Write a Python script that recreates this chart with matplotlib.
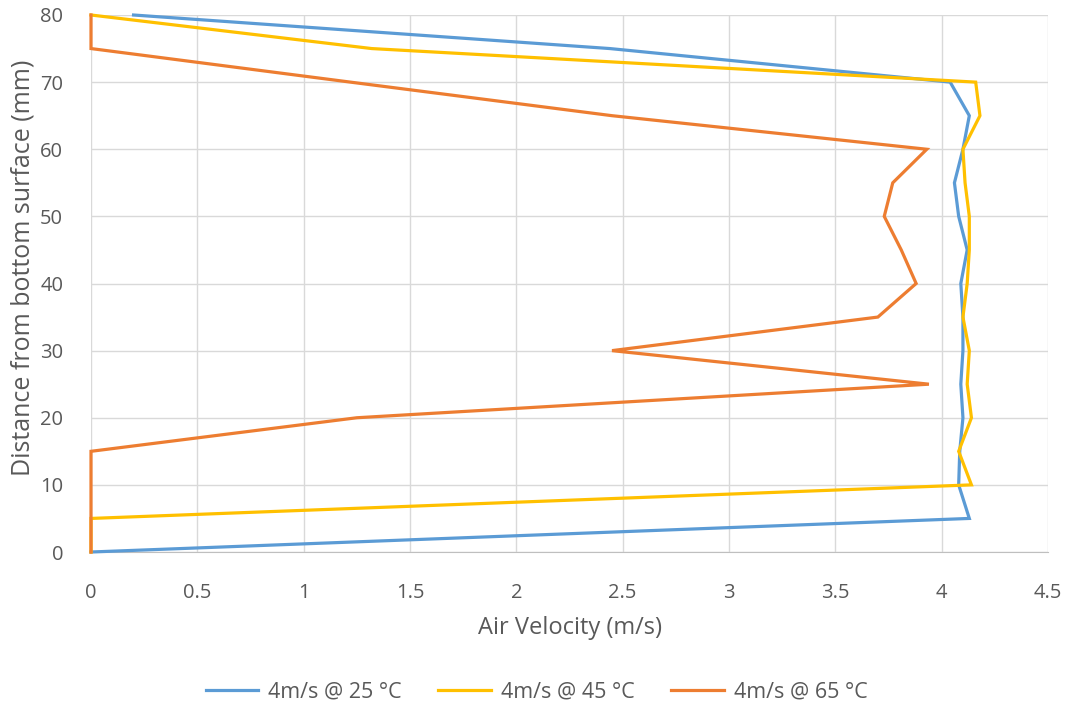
import matplotlib
matplotlib.use("Agg")
import matplotlib.pyplot as plt
from matplotlib.ticker import FuncFormatter

distance = [0, 5, 10, 15, 20, 25, 30, 35, 40, 45, 50, 55, 60, 65, 70, 75, 80]
v25 = [0, 4.13, 4.08, 4.085, 4.10, 4.09, 4.10, 4.10, 4.09, 4.12, 4.08, 4.06, 4.10, 4.13, 4.04, 2.44, 0.2]
v45 = [0, 0, 4.14, 4.08, 4.14, 4.12, 4.13, 4.10, 4.12, 4.13, 4.13, 4.11, 4.10, 4.18, 4.16, 1.32, 0]
v65 = [0, 0, 0, 0, 1.25, 3.94, 2.45, 3.70, 3.88, 3.81, 3.73, 3.77, 3.93, 2.45, 1.22, 0, 0]
series = [("4m/s @ 25 °C", v25, "#5B9BD5"),
          ("4m/s @ 45 °C", v45, "#FFC000"),
          ("4m/s @ 65 °C", v65, "#ED7D31")]
xticks = [0, 0.5, 1, 1.5, 2, 2.5, 3, 3.5, 4, 4.5]
yticks = [0, 10, 20, 30, 40, 50, 60, 70, 80]

plt.rcParams['font.family'] = ['Open Sans', 'DejaVu Sans']
txt = "#595959"

fig = plt.figure(figsize=(10.73, 7.11), dpi=100)
ax = fig.add_axes([91/1073, 1-552/711, 957/1073, 537/711])
for name, vals, col in series:
    ax.plot(vals, distance, color=col, lw=2.3, label=name, solid_joinstyle='miter', clip_on=False, zorder=3)

ax.set_xlim(0, 4.5)
ax.set_ylim(0, 80)
ax.set_xticks(xticks)
ax.set_yticks(yticks)
ax.xaxis.set_major_formatter(FuncFormatter(lambda v, p: f"{v:g}"))
ax.grid(True, color="#D9D9D9", lw=1)
ax.set_axisbelow(True)
for s in ["top", "right", "left"]:
    ax.spines[s].set_visible(False)
ax.spines["bottom"].set_color("#BFBFBF")
ax.tick_params(length=0, labelsize=14.5, colors=txt)
ax.tick_params(axis='x', pad=22)
ax.tick_params(axis='y', pad=20)
ax.set_xlabel("Air Velocity (m/s)", fontsize=17, color=txt, labelpad=10)
ax.set_ylabel("Distance from bottom surface (mm)", fontsize=18, color=txt)
ax.yaxis.set_label_coords(-0.058, 0.53)
fig.legend(loc="center", bbox_to_anchor=(0.5, 1-692/711), ncol=3, frameon=False,
           fontsize=15.5, labelcolor=txt, handlelength=2.45, handletextpad=0.45, columnspacing=1.7)
fig.savefig("out.png", dpi=100)
